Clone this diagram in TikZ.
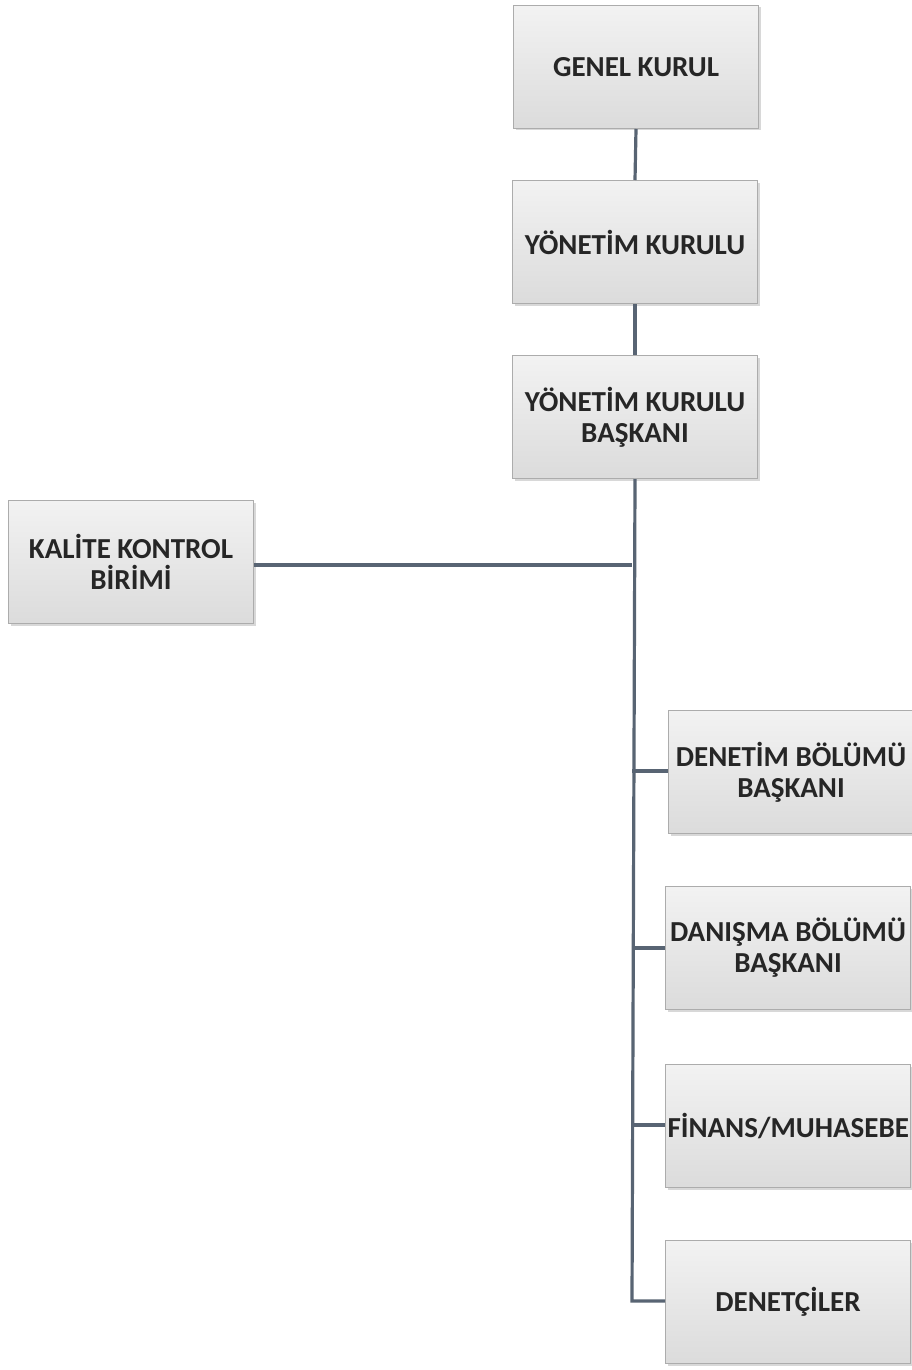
\documentclass[tikz,border=0pt]{standalone}
\usepackage{fontspec}
\setmainfont{Carlito}
\usetikzlibrary{shadows}
\definecolor{connc}{RGB}{88,100,115}
\begin{document}
\begin{tikzpicture}[x=1pt,y=-1pt,
  orgbox/.style={draw=gray!65, line width=1pt, top color=gray!10, bottom color=gray!28,
    minimum width=245pt, minimum height=123pt, anchor=north west, align=center,
    font=\fontsize{29}{31}\selectfont\bfseries, text=black!85, inner sep=2pt,
    drop shadow={shadow xshift=2pt, shadow yshift=-2pt, fill=gray!50, opacity=0.6}},
  conn/.style={draw=connc, line width=3.2pt}]
\useasboundingbox[fill=white] (0,0) rectangle (912,1370);
\node[orgbox] (gk) at (513,5) {GENEL KURUL};
\node[orgbox] (yk) at (512,180) {YÖNETİM KURULU};
\node[orgbox] (ykb) at (512,355) {YÖNETİM KURULU\\BAŞKANI};
\node[orgbox] (kk) at (8,500) {KALİTE KONTROL\\BİRİMİ};
\node[orgbox] (den) at (668,710) {DENETİM BÖLÜMÜ\\BAŞKANI};
\node[orgbox] (dan) at (665,886) {DANIŞMA BÖLÜMÜ\\BAŞKANI};
\node[orgbox] (fin) at (665,1064) {FİNANS/MUHASEBE};
\node[orgbox] (dc) at (665,1240) {DENETÇİLER};
\coordinate (t0) at (632,565);
\coordinate (t1) at (632,771);
\coordinate (t2) at (632,948);
\coordinate (t3) at (632,1125);
\coordinate (t4) at (632,1301);
\draw[conn] (gk.south) -- (yk.north);
\draw[conn] (yk.south) -- (ykb.north);
\draw[conn] (ykb.south) -- (t4) -- (dc.west|-t4);
\draw[conn] (kk.east|-t0) -- (t0);
\draw[conn] (t1) -- (den.west|-t1);
\draw[conn] (t2) -- (dan.west|-t2);
\draw[conn] (t3) -- (fin.west|-t3);
\end{tikzpicture}
\end{document}
